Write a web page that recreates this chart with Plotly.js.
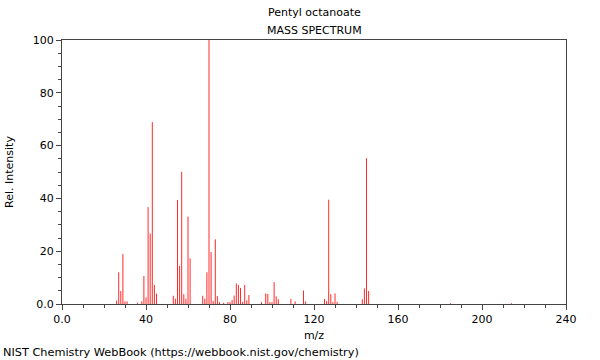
<!DOCTYPE html>
<html>
<head>
<meta charset="utf-8">
<script src="https://cdn.plot.ly/plotly-3.0.1.min.js"></script>
<style>html,body{margin:0;padding:0;background:#fff;}#chart{width:600px;height:360px;}</style>
</head>
<body>
<div id="chart"></div>
<script>
const chartTitle = "Pentyl octanoate";
const chartSubtitle = "MASS SPECTRUM";
const xLabel = "m/z";
const yLabel = "Rel. Intensity";
const footer = "NIST Chemistry WebBook (https://webbook.nist.gov/chemistry)";

const mz = [26, 27, 28, 29, 30, 31, 36, 38, 39, 40, 41, 42, 43, 44, 45,
  53, 54, 55, 56, 57, 58, 59, 60, 61, 67, 68, 69, 70, 71, 72, 73, 74, 75, 77, 79, 80,
  81, 82, 83, 84, 85, 86, 87, 88, 89, 95, 97, 98, 99, 100, 101, 102, 103,
  109, 111, 115, 116, 125, 126, 127, 128, 129, 130, 131, 143, 144, 145, 146, 185, 214];
const intensity = [1.3, 12.0, 4.9, 18.9, 1.0, 1.0, 0.5, 1.0, 10.6, 2.5, 36.7, 26.7, 68.9, 7.2, 3.9,
  3.1, 2.0, 39.4, 14.4, 50.1, 3.7, 2.0, 33.1, 17.3, 3.1, 2.0, 12.0, 100, 19.7, 1.2, 24.5, 3.0, 0.7, 0.5, 0.7, 0.7,
  1.5, 3.2, 7.8, 7.2, 6.1, 0.8, 7.2, 1.4, 3.4, 0.7, 4.0, 3.8, 0.7, 0.7, 8.3, 2.9, 1.8,
  1.9, 1.0, 5.1, 1.0, 1.9, 1.1, 39.5, 3.7, 0.7, 4.0, 0.8, 1.8, 5.9, 55.2, 4.9, 0.3, 0.3];

const xTickVals = [0, 40, 80, 120, 160, 200, 240];
const xTickText = ["0.0", "40", "80", "120", "160", "200", "240"];
const yTickVals = [0, 20, 40, 60, 80, 100];
const yTickText = ["0.0", "20", "40", "60", "80", "100"];

// build stick segments from the data
const sx = [], sy = [];
mz.forEach((m, i) => { sx.push(m, m, null); sy.push(0, intensity[i], null); });

const font = {family: "DejaVu Sans, sans-serif", size: 11, color: "#000"};
const axisCommon = {
  showline: true, mirror: true, linecolor: "#444", linewidth: 1,
  ticks: "outside", ticklen: 5, tickcolor: "#444", tickwidth: 1,
  showgrid: false, zeroline: false, tickfont: font, fixedrange: true
};

const data = [{
  type: "scatter", mode: "lines", x: sx, y: sy,
  line: {color: "#ff2a2a", width: 1}, hoverinfo: "skip", showlegend: false
}];

const layout = {
  width: 600, height: 360,
  margin: {l: 62, r: 34, t: 40, b: 56},
  paper_bgcolor: "#fff", plot_bgcolor: "#fff",
  font: font,
  xaxis: Object.assign({}, axisCommon, {
    range: [0, 240], tickvals: xTickVals, ticktext: xTickText,
    minor: {ticks: "outside", tickvals: [10,20,30,50,60,70,90,100,110,130,140,150,170,180,190,210,220,230], ticklen: 3, tickcolor: "#444"},
    title: {text: xLabel, font: font, standoff: 6}
  }),
  yaxis: Object.assign({}, axisCommon, {
    range: [0, 100], tickvals: yTickVals, ticktext: yTickText,
    minor: {ticks: "outside", dtick: 5, ticklen: 3, tickcolor: "#444"},
    title: {text: yLabel, font: font, standoff: 16}
  }),
  annotations: [
    {text: chartTitle, xref: "paper", yref: "paper", x: 0.5, y: (304 - 13) / 264,
     xanchor: "center", yanchor: "middle", showarrow: false, font: font},
    {text: chartSubtitle, xref: "paper", yref: "paper", x: 0.5, y: (304 - 30) / 264,
     xanchor: "center", yanchor: "middle", showarrow: false, font: font},
    {text: footer, xref: "paper", yref: "paper", x: (1 - 62) / 504, y: (304 - 352) / 264,
     xanchor: "left", yanchor: "middle", showarrow: false,
     font: {family: font.family, size: 11.3, color: "#000"}}
  ]
};

Plotly.newPlot("chart", data, layout, {staticPlot: true, displayModeBar: false});
</script>
</body>
</html>
